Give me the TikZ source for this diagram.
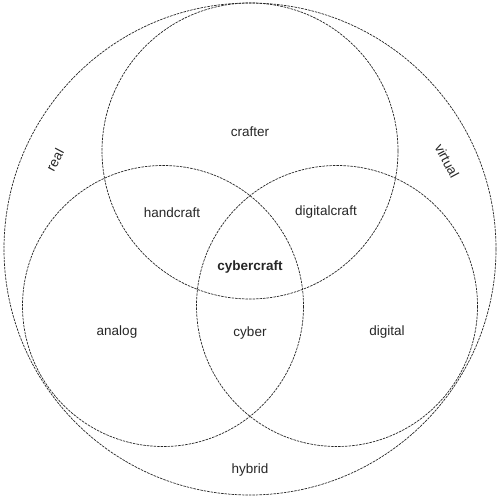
\documentclass[tikz,border=0pt]{standalone}
\usepackage{fontspec}
\setmainfont{Liberation Sans}
\begin{document}
\begin{tikzpicture}[x=1pt,y=-1pt,
  ring/.style={draw=black!85, line width=0.7pt, dash pattern=on 2.5pt off 1pt},
  lbl/.style={font=\fontsize{13.5}{16}\selectfont, text=black!85, inner sep=0pt}]
\useasboundingbox (0,0) rectangle (500,500);
\draw[ring] (250,249) circle (246);
\draw[ring] (250,151) circle (148);
\draw[ring] (163,306) circle (140.5);
\draw[ring] (337,306) circle (140.5);
\node[lbl] (crafter) at (250,132) {crafter};
\node[lbl] (handcraft) at (172,213) {handcraft};
\node[lbl] (digitalcraft) at (326,212) {digitalcraft};
\node[lbl, font=\fontsize{13.5}{16}\selectfont\bfseries] (cybercraft) at (250,267) {cybercraft};
\node[lbl] (analog) at (117,332) {analog};
\node[lbl] (cyber) at (250,333) {cyber};
\node[lbl] (digital) at (387,332) {digital};
\node[lbl] (hybrid) at (250,470) {hybrid};
\node[lbl, rotate=62] (real) at (55,160) {real};
\node[lbl, rotate=-62] (virtual) at (447,161) {virtual};
\end{tikzpicture}
\end{document}
